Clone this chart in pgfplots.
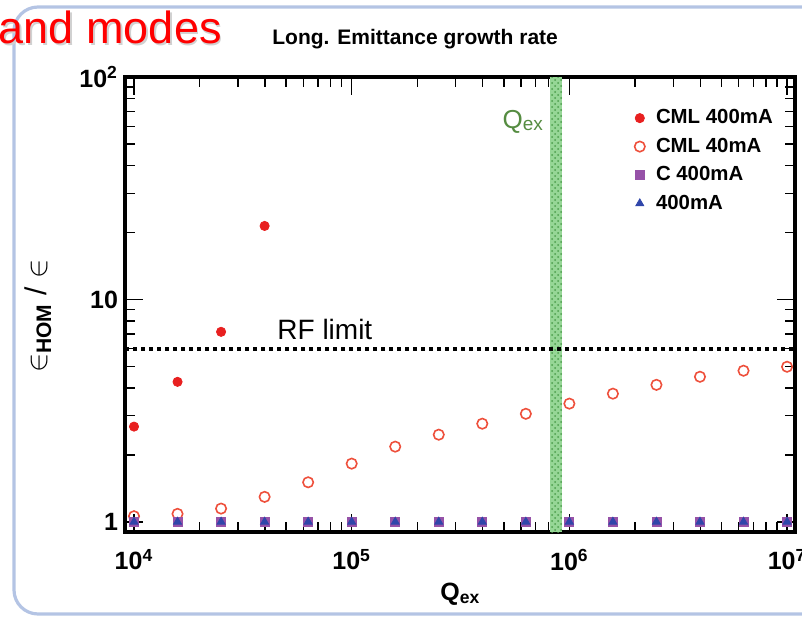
\documentclass[border=0pt]{standalone}
\usepackage{fontspec}
\setmainfont{Liberation Sans}
\usepackage{pgfplots}
\pgfplotsset{compat=1.18}
\usetikzlibrary{patterns}
\definecolor{fillred}{RGB}{232,32,32}
\definecolor{openred}{RGB}{238,80,60}
\definecolor{sqpurple}{RGB}{150,82,168}
\definecolor{triblue}{RGB}{48,70,170}
\definecolor{qgreen}{RGB}{85,140,65}
\definecolor{bandgreen}{RGB}{150,214,150}
\definecolor{slideblue}{RGB}{180,196,228}

\pgfplotstableread{
x y
10000 2.68
15849 4.26
25119 7.15
39811 21.4
}\cmlhigh

\pgfplotstableread{
x y
10000 1.06
15849 1.086
25119 1.147
39811 1.295
63096 1.506
100000 1.827
158489 2.178
251189 2.465
398107 2.762
630957 3.06
1000000 3.40
1584893 3.77
2511886 4.13
3981072 4.49
6309573 4.78
10000000 4.98
}\cmllow

\pgfplotstableread{
x y
10000 1
15849 1
25119 1
39811 1
63096 1
100000 1
158489 1
251189 1
398107 1
630957 1
1000000 1
1584893 1
2511886 1
3981072 1
6309573 1
10000000 1
}\flat

\begin{document}
\begin{tikzpicture}
\path[use as bounding box] (0pt,0pt) rectangle (401pt,308.5pt);
\clip (0pt,0pt) rectangle (401pt,308.5pt);
\draw[slideblue, line width=1.6pt, rounded corners=12pt] (440pt,305pt) -- (7pt,305pt) -- (7pt,1.5pt) -- (440pt,1.5pt);

\node[anchor=base east, inner sep=0, text=black!18, font=\fontsize{22.5}{26}\selectfont] at (111.8pt,285.7pt) {and modes};
\node[anchor=base east, inner sep=0, text=red, font=\fontsize{22.5}{26}\selectfont] at (111pt,286.5pt) {and modes};

\begin{axis}[
  at={(62.5pt,42.5pt)}, anchor=south west,
  scale only axis, width=335pt, height=227.5pt,
  xmode=log, ymode=log,
  xmin=9093, xmax=1.088e7, ymin=0.90, ymax=100,
  xtick={1e4,1e5,1e6,1e7},
  xticklabels={10\textsuperscript{4},10\textsuperscript{5},10\textsuperscript{6},10\textsuperscript{7}},
  ytick={1,10,100},
  yticklabels={1,10,10\textsuperscript{2}},
  tick label style={font=\bfseries\fontsize{12.5}{15}\selectfont},
  xticklabel style={yshift=-5pt},
  axis line style={line width=1.6pt},
  tick style={line width=0.7pt, black},
  major tick length=9pt, minor tick length=5pt,
  tick align=inside,
  clip=false,
  legend style={draw=none, fill=none, at={(0.751,0.947)}, anchor=north west,
    font=\bfseries\fontsize{10.2}{12}\selectfont, row sep=1.6pt, column sep=3.5pt},
  legend cell align=left,
]
\addplot[draw=none, fill=bandgreen, forget plot] coordinates {(8.15e5,0.9) (9.25e5,0.9) (9.25e5,100) (8.15e5,100)} -- cycle;
\addplot[draw=none, pattern=crosshatch dots, pattern color=green!45!black!70, forget plot] coordinates {(8.15e5,0.9) (9.25e5,0.9) (9.25e5,100) (8.15e5,100)} -- cycle;
\addplot[black, line width=2pt, dash pattern=on 2pt off 2pt, forget plot] coordinates {(9093,6) (1.088e7,6)};

\addplot[only marks, mark=*, mark size=2.3pt, color=fillred]
  table[x=x,y=y] {\cmlhigh};
\addlegendentry{CML 400mA}
\addplot[only marks, mark=o, mark size=2.6pt, line width=0.8pt, color=openred]
  table[x=x,y=y] {\cmllow};
\addlegendentry{CML 40mA}
\addplot[only marks, mark=square*, mark size=2.25pt, color=sqpurple]
  table[x=x,y=y] {\flat};
\addlegendentry{C 400mA}
\addplot[only marks, mark=triangle*, mark size=2.3pt, color=triblue]
  table[x=x,y=y] {\flat};
\addlegendentry{400mA}

\node[anchor=base west, inner sep=0, font=\fontsize{14}{16}\selectfont] at (axis cs:45400,6.58) {RF limit};
\node[anchor=base west, inner sep=0, text=qgreen, font=\fontsize{13}{15}\selectfont] at (axis cs:4.91e5,58.9) {Q\raisebox{-1.2pt}{\fontsize{9.5}{11}\selectfont ex}};
\end{axis}

\node[anchor=base west, inner sep=0, font=\bfseries\fontsize{10.5}{12}\selectfont] at (136pt,286pt) {Long. Emittance growth rate};
\node[rotate=90, inner sep=0, font=\fontsize{15}{17}\selectfont] at (19pt,150.5pt) {$\in$\textsubscript{\textbf{HOM}} / $\in$};
\node[anchor=base west, inner sep=0, font=\bfseries\fontsize{12.5}{15}\selectfont] at (220pt,8.5pt) {Q\textsubscript{ex}};
\end{tikzpicture}
\end{document}
